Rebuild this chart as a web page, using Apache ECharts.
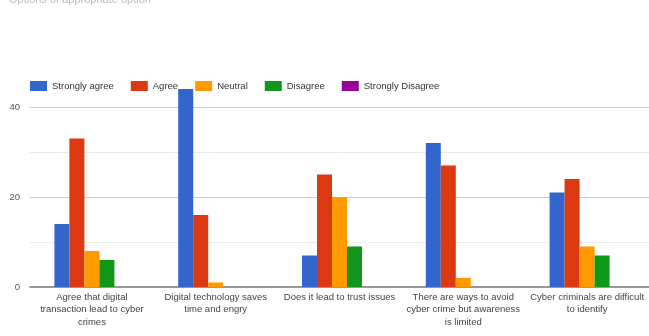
<!DOCTYPE html>
<html><head><meta charset="utf-8">
<script src="https://cdn.jsdelivr.net/npm/echarts@6/dist/echarts.min.js"></script>
<style>html,body{margin:0;padding:0;background:#fff}#c{width:649px;height:336px}</style>
</head><body><div id="c"></div>
<script>
const categories = [
  "Agree that digital\ntransaction lead to cyber\ncrimes",
  "Digital technology saves\ntime and engry",
  "Does it lead to trust issues",
  "There are ways to avoid\ncyber crime but awareness\nis limited",
  "Cyber criminals are difficult\nto identify"
];
const seriesNames = ["Strongly agree", "Agree", "Neutral", "Disagree", "Strongly Disagree"];
const stronglyAgree = [14, 44, 7, 32, 21];
const agree = [33, 16, 25, 27, 24];
const neutral = [8, 1, 20, 2, 9];
const disagree = [6, 0, 9, 0, 7];
const stronglyDisagree = [0, 0, 0, 0, 0];
const yTickLabels = [0, 20, 40];
const colors = ["#3366cc", "#dc3912", "#ff9900", "#109618", "#990099"];
const values = [stronglyAgree, agree, neutral, disagree, stronglyDisagree];

const chart = echarts.init(document.getElementById('c'), null, {renderer: 'canvas'});
chart.setOption({
  animation: false,
  title: {
    text: "Options of appropriate option",
    left: 4, top: -11,
    textStyle: {fontSize: 11, fontWeight: 'normal', color: '#bbb', fontFamily: 'Liberation Sans'}
  },
  legend: {
    left: 25, top: 76,
    itemWidth: 17, itemHeight: 10, itemGap: 17,
    icon: 'rect',
    textStyle: {fontSize: 9.5, color: '#333', fontFamily: 'Liberation Sans'},
    data: seriesNames
  },
  grid: {left: 30, right: -3, top: 84.5, bottom: 49, containLabel: false},
  xAxis: {
    type: 'category', data: categories,
    axisLine: {show: true, lineStyle: {color: '#999', width: 2}},
    axisTick: {show: false},
    axisLabel: {fontSize: 9.5, color: '#444', lineHeight: 12.5, margin: 4, interval: 0, fontFamily: 'Liberation Sans'}
  },
  yAxis: {
    type: 'value', min: 0, max: 45, interval: 10,
    axisLine: {show: false}, axisTick: {show: false},
    splitLine: {show: true, lineStyle: {color: ['#ccc', '#ebebeb', '#ccc', '#ebebeb', '#ccc', '#fff'], width: 1}},
    axisLabel: {
      fontSize: 9.5, color: '#555', margin: 10, showMaxLabel: false, fontFamily: 'Liberation Sans',
      formatter: v => yTickLabels.includes(v) ? String(v) : ''
    }
  },
  series: seriesNames.map((n, i) => ({
    name: n, type: 'bar', data: values[i],
    barWidth: 15, barGap: '0%',
    itemStyle: {color: colors[i]}
  }))
});
</script></body></html>
